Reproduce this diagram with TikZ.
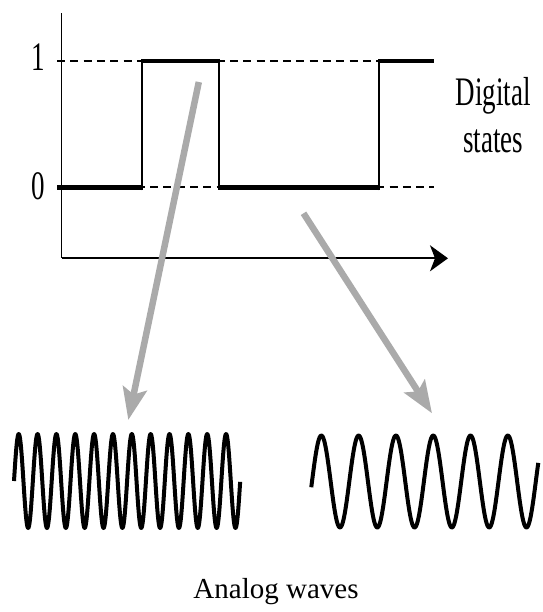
\documentclass[tikz,border=0pt]{standalone}
\usepackage{fontspec}
\setmainfont{Liberation Serif}
\usepackage{graphicx}
\usetikzlibrary{arrows.meta}
\definecolor{arrowgray}{RGB}{170,170,170}
\newcommand{\tallText}[1]{\scalebox{1}[1.5]{#1}}

\begin{document}
\begin{tikzpicture}[x=1pt, y=-1pt,
    axis/.style={line width=1.8pt},
    gridline/.style={line width=2pt, dash pattern=on 8pt off 5.3pt},
    bitline/.style={line width=4.2pt},
    transition/.style={line width=1.8pt},
    wave/.style={line width=4pt, line join=round},
    grayarrow/.style={line width=6.5pt, arrowgray, -{Stealth[length=32pt, width=24pt, inset=6pt]}},
    bigtext/.style={font=\fontsize{27}{47}\selectfont, inner sep=0pt}]
    \useasboundingbox (0,0) rectangle (542,612);

    % Define axes
    \coordinate (ytop) at (61.5,13.3);
    \coordinate (origin) at (61.5,258.3);
    \coordinate (xend) at (448,258.3);
    \draw[axis] (ytop) -- (origin);
    \draw[axis, -{Stealth[length=18pt, width=26pt, inset=5pt]}] (origin) -- (xend);

    % Define states
    \node[bigtext] (one) at (38.3,57) {\tallText{1}};
    \node[bigtext] (zero) at (38.3,186.7) {\tallText{0}};
    \draw[gridline] (57,61) -- (434,61);
    \draw[gridline] (57,187.5) -- (434,187.5);
    \node[bigtext, align=center] (digital) at (493,115.6) {\tallText{Digital}\\\tallText{states}};

    % Define signal
    \draw[bitline] (57,187.5) -- (141.7,187.5);
    \draw[transition] (141.7,190.5) -- (141.7,59);
    \draw[bitline] (141.7,61) -- (219.3,61);
    \draw[transition] (219.3,59) -- (219.3,190.5);
    \draw[bitline] (219.3,187.5) -- (379,187.5);
    \draw[transition] (379,190.5) -- (379,59);
    \draw[bitline] (379,61) -- (434,61);

    % Define waves
    \draw[wave] plot[domain=0:12, samples=481] ({14+18.85*\x}, {481-47*sin(360*\x)});
    \draw[wave] plot[domain=-0.02:6.07, samples=300] ({312+37.3*\x}, {481.5-46*sin(360*\x)});
    \node[font=\fontsize{29}{34}\selectfont, anchor=base] (analog) at (276,598) {Analog waves};

    % Define connections
    \coordinate (high) at (198.8,82);
    \coordinate (fast) at (128.3,420);
    \coordinate (low) at (303.5,213.3);
    \coordinate (slow) at (432,413.3);
    \draw[grayarrow] (high) -- (fast);
    \draw[grayarrow] (low) -- (slow);
\end{tikzpicture}
\end{document}
